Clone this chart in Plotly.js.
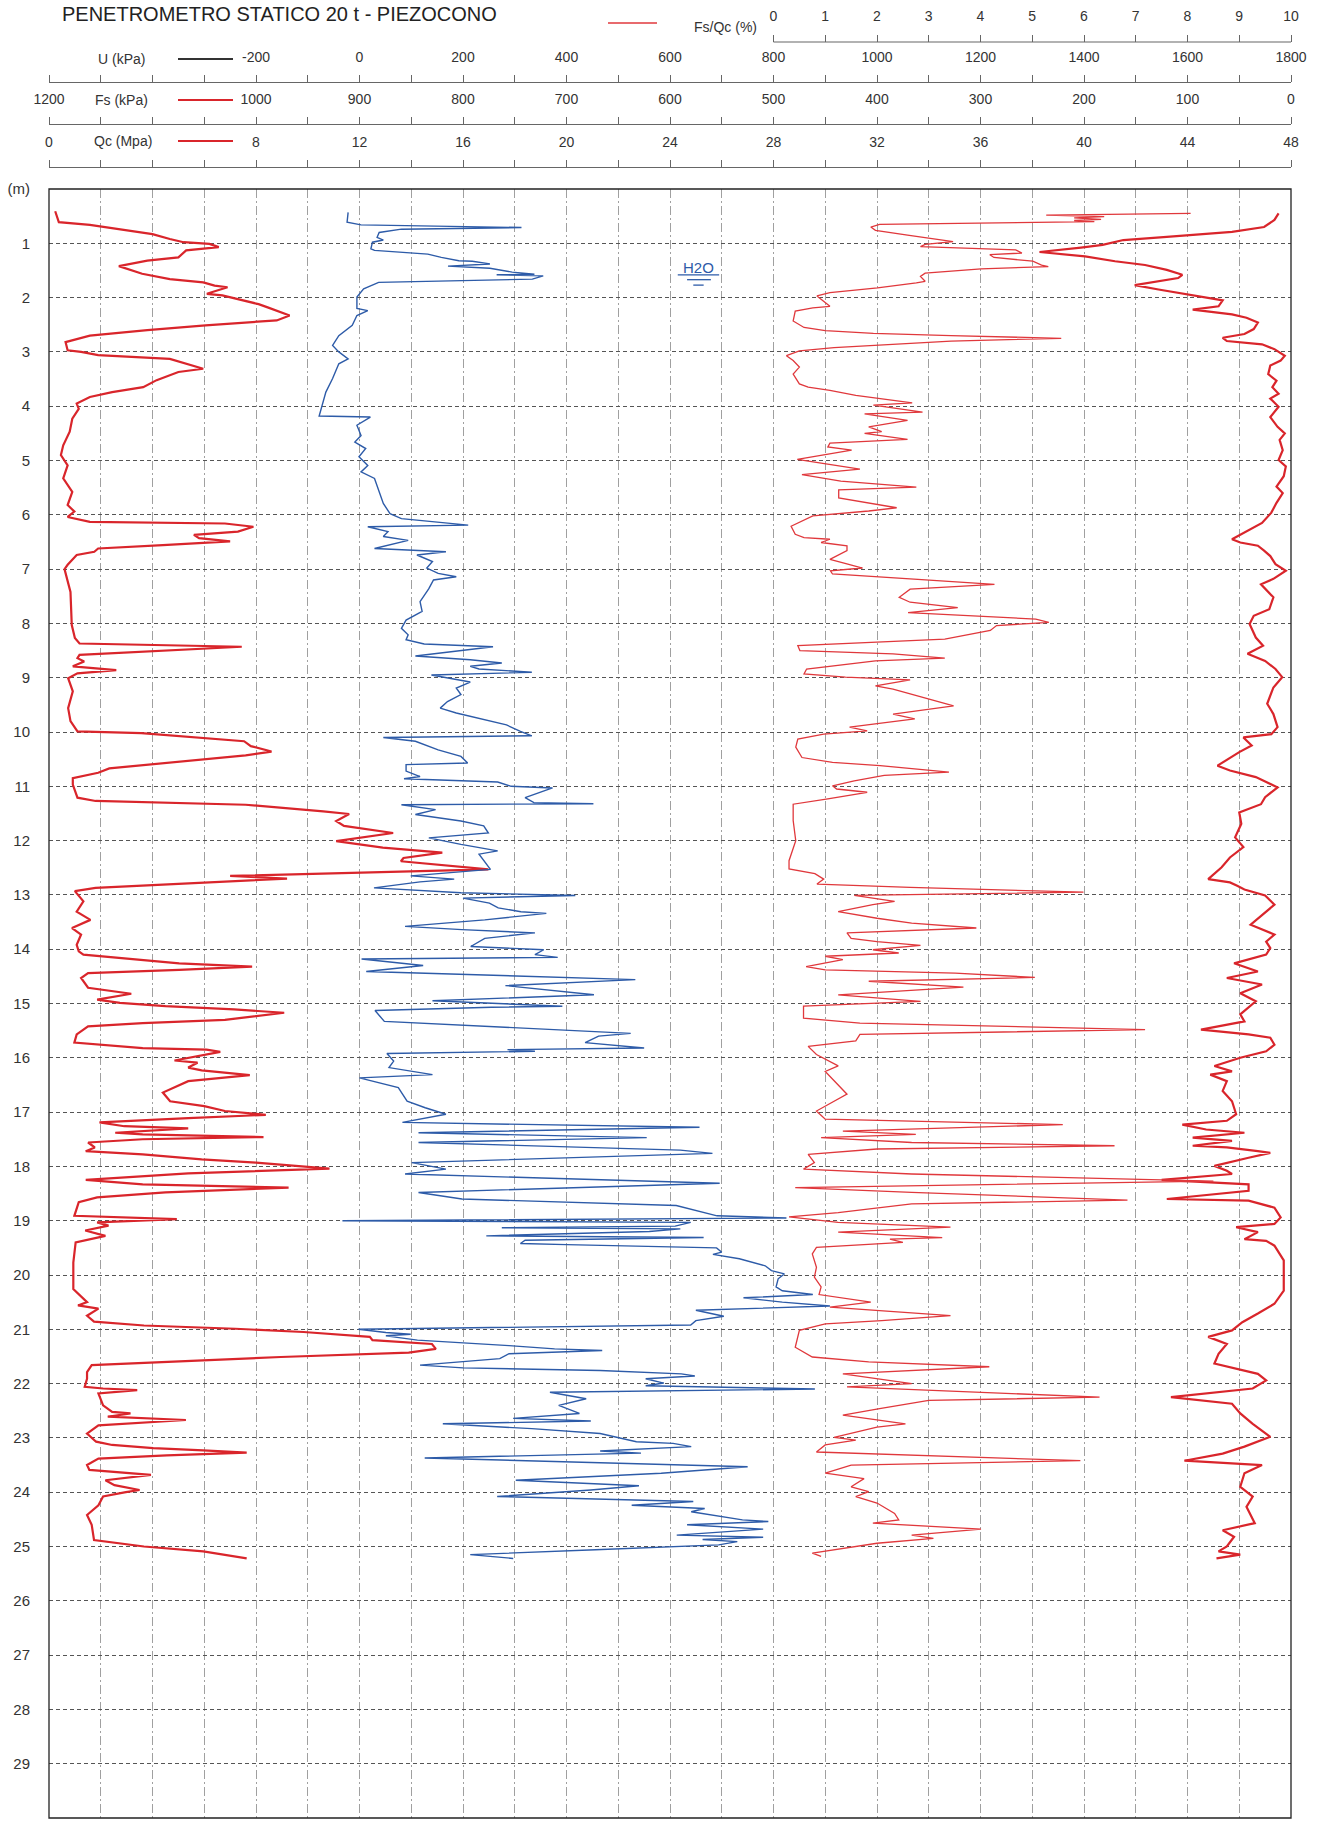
<!DOCTYPE html>
<html><head><meta charset="utf-8">
<script src="https://cdn.plot.ly/plotly-3.0.1.min.js"></script>
<style>html,body{margin:0;padding:0;background:#fff;}#chart{width:1329px;height:1823px;}</style>
</head><body><div id="chart"></div>
<script>
// ---------------- DATA (depth m, value) ----------------
const qcProfile = [[0.41,0.24],[0.61,0.38],[0.66,1.58],[0.83,4.0],[0.92,4.67],[0.98,5.2],[1.01,6.2],[1.07,6.56],[1.13,5.3],[1.26,5.0],[1.32,3.8],[1.42,2.7],[1.56,3.6],[1.66,4.67],[1.72,5.96],[1.78,6.4],[1.81,6.9],[1.93,6.1],[1.96,6.7],[2.12,8.1],[2.18,8.45],[2.24,8.8],[2.33,9.3],[2.42,8.8],[2.51,6.05],[2.60,3.8],[2.70,1.58],[2.82,0.64],[2.97,0.72],[3.00,1.24],[3.06,1.9],[3.13,4.67],[3.22,5.36],[3.31,5.96],[3.37,5.0],[3.52,4.16],[3.65,3.64],[3.74,2.44],[3.83,1.58],[3.95,1.07],[4.05,1.15],[4.23,0.9],[4.47,0.8],[4.72,0.55],[4.90,0.46],[5.09,0.72],[5.33,0.55],[5.58,0.9],[5.82,0.72],[5.94,0.98],[6.04,0.72],[6.13,1.58],[6.16,6.8],[6.22,7.9],[6.31,7.3],[6.37,5.6],[6.43,5.8],[6.49,7.0],[6.56,4.4],[6.62,1.9],[6.68,1.75],[6.74,1.07],[6.92,0.72],[7.00,0.6],[7.42,0.83],[8.03,0.88],[8.27,1.0],[8.37,1.18],[8.43,7.45],[8.52,3.9],[8.58,1.18],[8.64,1.1],[8.70,1.36],[8.79,0.92],[8.86,2.6],[8.92,1.1],[9.01,0.74],[9.25,0.92],[9.56,0.74],[9.80,0.83],[9.99,1.1],[10.02,3.57],[10.11,6.04],[10.17,7.54],[10.26,7.8],[10.36,8.6],[10.43,7.6],[10.51,5.86],[10.61,3.57],[10.67,2.33],[10.75,1.9],[10.85,0.92],[10.97,0.92],[11.21,1.1],[11.27,1.8],[11.34,7.6],[11.46,10.6],[11.51,11.6],[11.64,11.1],[11.73,11.4],[11.86,13.3],[11.98,11.4],[12.01,11.1],[12.13,12.9],[12.22,15.2],[12.32,13.7],[12.38,13.6],[12.53,16.98],[12.59,12.4],[12.65,7.0],[12.70,9.2],[12.77,6.2],[12.87,1.8],[12.93,1.0],[13.05,1.2],[13.12,1.33],[13.31,1.07],[13.46,1.6],[13.61,0.89],[13.73,1.24],[13.92,1.07],[14.04,1.15],[14.10,1.33],[14.16,2.74],[14.26,5.03],[14.32,7.85],[14.38,5.03],[14.44,1.51],[14.53,1.24],[14.71,1.51],[14.82,3.18],[14.93,1.86],[14.99,2.74],[15.05,4.5],[15.11,7.15],[15.17,9.09],[15.30,6.8],[15.36,3.62],[15.42,1.51],[15.57,1.07],[15.72,0.98],[15.82,3.62],[15.85,6.09],[15.89,6.62],[15.95,5.9],[16.05,4.85],[16.09,5.74],[16.18,5.38],[16.23,5.9],[16.32,7.76],[16.43,5.38],[16.64,4.4],[16.80,4.68],[16.89,6.0],[16.98,6.8],[17.05,8.38],[17.11,5.38],[17.19,1.95],[17.26,2.91],[17.30,5.38],[17.38,2.56],[17.41,3.62],[17.46,8.29],[17.50,3.62],[17.56,1.51],[17.65,1.77],[17.72,1.42],[17.78,3.62],[17.87,5.9],[17.93,8.0],[18.04,10.84],[18.13,5.38],[18.25,1.42],[18.33,3.62],[18.39,9.26],[18.48,4.5],[18.57,1.86],[18.66,1.15],[18.91,0.98],[18.97,4.94],[19.03,1.86],[19.09,2.3],[19.18,1.4],[19.28,2.18],[19.40,1.03],[19.77,0.94],[20.26,0.94],[20.38,1.21],[20.50,1.47],[20.56,1.12],[20.62,1.91],[20.75,1.47],[20.86,1.74],[20.93,3.67],[20.99,7.2],[21.05,9.84],[21.14,12.4],[21.20,12.5],[21.27,14.8],[21.36,14.95],[21.43,13.9],[21.51,8.96],[21.60,4.55],[21.66,1.65],[21.79,1.47],[21.91,1.47],[22.06,1.38],[22.09,2.09],[22.12,3.41],[22.18,1.91],[22.40,2.09],[22.52,2.44],[22.55,3.15],[22.61,2.27],[22.67,5.29],[22.77,1.91],[22.92,1.47],[23.07,1.82],[23.13,2.44],[23.19,4.03],[23.23,5.96],[23.27,7.64],[23.32,4.55],[23.38,1.91],[23.50,1.47],[23.59,1.56],[23.68,3.94],[23.78,2.18],[23.87,2.53],[23.96,3.5],[24.00,2.97],[24.08,2.09],[24.24,1.91],[24.42,1.47],[24.60,1.65],[24.88,1.74],[25.00,3.67],[25.09,5.96],[25.22,7.64]];

const uProfile = [[0.43,-22],[0.61,-24],[0.66,3],[0.71,313],[0.74,81],[0.80,38],[0.89,34],[0.94,46],[0.98,25],[1.10,22],[1.13,29],[1.20,132],[1.26,158],[1.32,192],[1.33,218],[1.38,252],[1.42,171],[1.46,252],[1.53,295],[1.57,338],[1.58,265],[1.60,355],[1.66,334],[1.72,37],[1.84,8],[1.99,-5],[2.20,-5],[2.24,16],[2.33,-5],[2.51,-14],[2.70,-40],[2.88,-52],[3.00,-40],[3.13,-22],[3.22,-40],[3.49,-52],[3.74,-65],[4.10,-76],[4.18,-78],[4.20,21],[4.35,-5],[4.54,3],[4.66,-9],[4.78,12],[4.93,-1],[5.09,16],[5.21,3],[5.33,29],[5.58,38],[5.79,46],[5.98,59],[6.07,81],[6.19,210],[6.22,16],[6.31,55],[6.40,46],[6.47,94],[6.62,29],[6.68,167],[6.74,111],[6.86,141],[6.98,130],[7.08,152],[7.14,187],[7.20,143],[7.36,134],[7.60,117],[7.78,121],[7.94,90],[8.09,81],[8.21,94],[8.30,90],[8.38,125],[8.43,258],[8.60,108],[8.67,214],[8.73,275],[8.79,214],[8.84,231],[8.90,333],[8.95,139],[9.08,214],[9.19,187],[9.31,196],[9.44,170],[9.56,156],[9.65,187],[9.77,240],[9.87,284],[9.99,311],[10.07,333],[10.10,46],[10.17,108],[10.33,152],[10.45,196],[10.57,209],[10.60,90],[10.72,90],[10.82,117],[10.86,86],[10.92,267],[11.00,293],[11.03,373],[11.21,320],[11.30,337],[11.32,452],[11.34,81],[11.43,147],[11.52,108],[11.64,196],[11.73,240],[11.86,249],[11.95,134],[12.07,196],[12.19,267],[12.25,231],[12.47,249],[12.53,253],[12.65,99],[12.71,183],[12.76,117],[12.87,28],[12.96,196],[13.01,417],[13.06,200],[13.15,251],[13.24,268],[13.31,312],[13.34,361],[13.46,242],[13.58,88],[13.64,198],[13.70,339],[13.80,242],[13.95,215],[14.01,356],[14.10,339],[14.15,383],[14.18,4],[14.30,123],[14.41,13],[14.56,533],[14.67,282],[14.84,453],[14.95,141],[15.05,392],[15.07,255],[15.13,30],[15.33,48],[15.55,524],[15.60,462],[15.72,436],[15.82,550],[15.85,286],[15.88,339],[15.92,53],[16.06,66],[16.18,57],[16.31,141],[16.37,0],[16.55,75],[16.80,92],[16.92,127],[17.04,167],[17.19,83],[17.28,657],[17.38,114],[17.47,555],[17.56,114],[17.70,620],[17.76,682],[17.93,101],[18.05,167],[18.14,88],[18.31,696],[18.48,114],[18.60,198],[18.72,612],[18.91,691],[18.95,825],[19.00,-33],[19.03,640],[19.10,610],[19.13,275],[19.15,620],[19.20,560],[19.28,245],[19.31,665],[19.36,320],[19.42,311],[19.44,400],[19.50,690],[19.58,700],[19.62,683],[19.70,734],[19.83,784],[19.92,796],[19.98,821],[20.07,809],[20.22,805],[20.29,817],[20.36,876],[20.42,742],[20.50,817],[20.57,909],[20.65,650],[20.76,704],[20.84,650],[20.92,640],[21.00,-2],[21.06,51],[21.09,99],[21.12,51],[21.20,112],[21.30,289],[21.36,377],[21.39,469],[21.45,289],[21.54,271],[21.60,200],[21.66,117],[21.71,200],[21.76,465],[21.82,622],[21.86,648],[21.91,553],[21.99,588],[22.04,553],[22.10,880],[22.16,368],[22.28,438],[22.40,385],[22.55,425],[22.64,297],[22.69,447],[22.74,161],[22.83,333],[22.92,465],[23.07,535],[23.10,606],[23.16,641],[23.24,465],[23.28,544],[23.37,126],[23.53,750],[23.65,583],[23.78,302],[23.88,540],[23.96,447],[24.08,266],[24.17,645],[24.24,526],[24.30,667],[24.36,641],[24.51,740],[24.54,790],[24.60,633],[24.68,780],[24.79,613],[24.83,780],[24.87,663],[24.91,730],[24.97,694],[25.06,456],[25.15,214],[25.22,297]];

const fsqcProfile = [[0.45,8.06],[0.48,5.27],[0.51,6.39],[0.53,5.81],[0.56,6.33],[0.58,5.81],[0.60,6.2],[0.65,2.05],[0.70,1.88],[0.76,1.97],[0.85,2.59],[0.91,3.01],[0.97,3.47],[1.02,2.93],[1.06,2.84],[1.12,4.68],[1.18,4.8],[1.21,4.18],[1.26,4.26],[1.33,5.01],[1.40,5.18],[1.43,5.31],[1.47,4.01],[1.55,2.93],[1.61,2.84],[1.70,2.93],[1.73,2.76],[1.82,2.01],[1.91,1.09],[1.97,0.84],[2.16,1.09],[2.19,0.76],[2.25,0.42],[2.43,0.38],[2.55,0.59],[2.61,1.0],[2.66,1.93],[2.70,3.43],[2.75,5.56],[2.80,3.43],[2.89,1.67],[2.92,1.17],[2.98,0.5],[3.07,0.25],[3.16,0.38],[3.28,0.5],[3.41,0.38],[3.59,0.5],[3.65,0.67],[3.71,1.09],[3.80,1.59],[3.89,2.26],[3.94,2.68],[3.98,1.93],[4.11,2.88],[4.14,1.76],[4.26,2.59],[4.38,1.84],[4.47,2.09],[4.50,1.76],[4.61,2.59],[4.68,1.09],[4.75,1.05],[4.81,1.51],[4.98,0.46],[5.05,0.92],[5.16,1.67],[5.26,0.55],[5.38,1.3],[5.49,2.76],[5.54,1.26],[5.69,1.26],[5.78,1.84],[5.87,2.38],[5.93,1.84],[5.99,1.09],[6.02,0.76],[6.21,0.34],[6.36,0.42],[6.42,0.59],[6.45,1.09],[6.51,0.92],[6.57,1.42],[6.66,1.42],[6.82,1.09],[6.90,1.4],[6.98,1.72],[7.03,1.1],[7.09,1.14],[7.18,2.64],[7.28,4.27],[7.37,2.64],[7.52,2.43],[7.61,2.64],[7.71,3.56],[7.80,2.6],[7.92,5.07],[7.98,5.32],[8.04,4.31],[8.13,4.19],[8.29,3.31],[8.41,0.47],[8.50,0.51],[8.56,2.31],[8.64,3.31],[8.69,1.97],[8.78,1.22],[8.84,0.64],[8.93,0.59],[8.99,1.39],[9.04,2.64],[9.15,1.97],[9.21,2.31],[9.39,2.98],[9.52,3.48],[9.67,2.31],[9.76,2.73],[9.91,1.47],[9.98,1.81],[10.04,0.97],[10.13,0.47],[10.28,0.43],[10.47,0.55],[10.56,1.14],[10.62,2.06],[10.74,3.39],[10.80,2.14],[10.90,1.56],[10.99,1.14],[11.05,1.22],[11.11,1.81],[11.23,1.05],[11.33,0.38],[11.63,0.38],[12.00,0.43],[12.37,0.3],[12.52,0.3],[12.61,0.8],[12.71,0.97],[12.80,0.84],[12.86,2.64],[12.95,5.99],[13.01,1.56],[13.12,2.34],[13.18,1.92],[13.31,1.25],[13.43,2.0],[13.52,2.67],[13.61,3.92],[13.70,1.42],[13.80,1.5],[13.86,2.0],[13.93,2.84],[14.01,1.92],[14.07,2.42],[14.13,1.0],[14.19,1.34],[14.32,0.63],[14.38,1.0],[14.44,3.51],[14.52,5.05],[14.59,1.84],[14.70,3.67],[14.84,1.25],[14.96,2.84],[15.05,0.58],[15.27,0.58],[15.36,1.67],[15.48,7.18],[15.57,1.67],[15.69,1.59],[15.79,0.67],[15.94,0.83],[16.15,1.25],[16.25,1.0],[16.67,1.42],[16.98,0.83],[17.13,1.0],[17.23,5.59],[17.35,1.34],[17.41,2.75],[17.47,0.92],[17.56,2.67],[17.62,6.59],[17.68,2.0],[17.78,0.67],[17.93,0.79],[18.05,0.58],[18.14,2.67],[18.27,8.5],[18.39,0.42],[18.48,2.67],[18.62,6.84],[18.69,2.67],[18.85,1.25],[18.93,0.3],[19.03,1.25],[19.12,3.42],[19.21,1.25],[19.31,3.26],[19.34,2.25],[19.40,2.5],[19.49,0.83],[19.61,0.75],[19.86,0.83],[20.04,0.79],[20.22,0.92],[20.36,0.88],[20.50,1.88],[20.59,1.09],[20.75,3.42],[20.84,2.09],[20.90,1.0],[21.02,0.5],[21.33,0.42],[21.51,0.75],[21.60,1.84],[21.69,4.17],[21.82,1.34],[22.00,2.67],[22.06,1.42],[22.25,6.3],[22.31,3.0],[22.46,2.05],[22.58,1.34],[22.74,2.55],[22.80,2.0],[22.99,1.17],[23.04,1.59],[23.13,1.0],[23.26,0.83],[23.42,5.93],[23.50,1.5],[23.65,1.0],[23.75,1.75],[23.90,1.5],[23.99,1.84],[24.08,1.59],[24.20,2.0],[24.39,2.34],[24.51,2.42],[24.57,1.92],[24.68,4.01],[24.79,2.67],[24.85,3.09],[24.94,2.0],[25.12,0.75],[25.18,0.92]];

const fsProfile = [[0.45,12],[0.57,16],[0.70,26],[0.79,57],[0.88,120],[0.94,162],[1.03,182],[1.08,203],[1.16,243],[1.24,199],[1.33,170],[1.40,141],[1.49,120],[1.58,105],[1.64,109],[1.77,151],[1.85,128],[1.94,99],[2.05,66],[2.16,70],[2.22,95],[2.31,57],[2.37,43],[2.46,32],[2.58,36],[2.67,45],[2.74,66],[2.80,62],[2.86,28],[2.95,16],[3.07,6],[3.16,10],[3.25,20],[3.41,22],[3.53,14],[3.65,18],[3.77,12],[3.86,20],[4.01,12],[4.20,20],[4.38,13],[4.50,6],[4.62,11],[4.81,8],[4.99,12],[5.11,5],[5.29,7],[5.48,14],[5.60,8],[5.78,14],[5.96,19],[6.15,28],[6.27,40],[6.45,57],[6.51,49],[6.57,32],[6.66,26],[6.76,20],[6.91,15],[7.03,5],[7.18,17],[7.28,29],[7.52,17],[7.74,21],[7.86,36],[8.01,40],[8.26,34],[8.41,27],[8.56,42],[8.69,25],[8.84,15],[8.99,8.5],[9.18,17],[9.48,23],[9.67,17],[9.91,13],[10.04,19],[10.10,46],[10.25,38],[10.37,50],[10.62,71],[10.71,59],[10.83,34],[11.02,13],[11.20,25],[11.33,29],[11.48,50],[11.69,48],[11.94,54],[12.12,46],[12.31,59],[12.49,67],[12.71,80],[12.77,59],[12.83,52],[12.90,45],[13.01,25],[13.18,16],[13.55,39],[13.73,16],[13.86,24],[13.98,20],[14.10,24],[14.26,55],[14.41,32],[14.53,62],[14.65,28],[14.81,49],[14.96,34],[15.20,49],[15.33,45],[15.48,87],[15.57,41],[15.63,20],[15.76,16],[15.88,24],[16.00,49],[16.15,74],[16.25,57],[16.31,78],[16.43,62],[16.61,66],[16.80,57],[17.04,53],[17.16,62],[17.23,105],[17.32,82],[17.38,45],[17.47,95],[17.53,57],[17.62,95],[17.65,62],[17.72,32],[17.75,20],[17.84,41],[17.99,74],[18.08,62],[18.14,57],[18.25,125],[18.33,41],[18.45,41],[18.60,120],[18.63,41],[18.76,16],[18.94,10],[19.06,16],[19.12,53],[19.21,32],[19.34,45],[19.37,24],[19.46,16],[19.73,7],[20.29,7],[20.53,16],[20.71,32],[20.87,47],[21.02,57],[21.14,80],[21.27,62],[21.45,70],[21.63,74],[21.82,32],[21.94,24],[22.09,37],[22.25,116],[22.37,57],[22.55,49],[22.74,37],[22.98,20],[23.16,45],[23.29,66],[23.42,103],[23.50,28],[23.65,45],[23.90,49],[24.08,37],[24.27,43],[24.57,35],[24.70,66],[24.82,55],[25.00,62],[25.09,70],[25.15,49],[25.22,72]];

// tick values / labels
const depthTicks = [0,1,2,3,4,5,6,7,8,9,10,11,12,13,14,15,16,17,18,19,20,21,22,23,24,25,26,27,28,29,30];
const qcTicks = [0,2,4,6,8,10,12,14,16,18,20,22,24,26,28,30,32,34,36,38,40,42,44,46,48];
const qcLabels = ['0','','','','8','','12','','16','','20','','24','','28','','32','','36','','40','','44','','48'];
const uTicks = [-600,-500,-400,-300,-200,-100,0,100,200,300,400,500,600,700,800,900,1000,1100,1200,1300,1400,1500,1600,1700,1800];
const uLabels = ['','','','','-200','','0','','200','','400','','600','','800','','1000','','1200','','1400','','1600','','1800'];
const fsTicks = [1200,1150,1100,1050,1000,950,900,850,800,750,700,650,600,550,500,450,400,350,300,250,200,150,100,50,0];
const fsLabels = ['1200','','','','1000','','900','','800','','700','','600','','500','','400','','300','','200','','100','','0'];
const fsqcTicks = [0,1,2,3,4,5,6,7,8,9,10];
const fsqcLabels = ['0','1','2','3','4','5','6','7','8','9','10'];

// ---------------- LAYOUT HELPERS ----------------
const L = 49, W = 1242, H = 1818;
const px = v => (v - L) / W;
const py = v => 1 - v / H;
const FONT = 'Arial, "Liberation Sans", sans-serif';
const RED = '#d9252b', RED2 = '#e0383c', BLUE = '#2d5ba8';

const col = (arr, i) => arr.map(r => r[i]);

const traces = [
  {x: col(qcProfile,1), y: col(qcProfile,0), xaxis:'x', yaxis:'y', mode:'lines', line:{color:RED, width:2.2}, hoverinfo:'skip'},
  {x: col(uProfile,1), y: col(uProfile,0), xaxis:'x2', yaxis:'y', mode:'lines', line:{color:BLUE, width:1.4}, hoverinfo:'skip'},
  {x: col(fsProfile,1), y: col(fsProfile,0), xaxis:'x3', yaxis:'y', mode:'lines', line:{color:RED, width:2.2}, hoverinfo:'skip'},
  {x: col(fsqcProfile,1), y: col(fsqcProfile,0), xaxis:'x4', yaxis:'y', mode:'lines', line:{color:RED2, width:1.3}, hoverinfo:'skip'}
];

const tickFont = {family: FONT, size: 14, color: '#333'};
function headerAxis(extra) {
  return Object.assign({
    anchor: 'free', side: 'top', showline: true, linecolor: '#666', linewidth: 1.2,
    ticks: 'outside', ticklen: 7, tickwidth: 1, tickcolor: '#666',
    tickmode: 'array', tickfont: tickFont, showgrid: false, zeroline: false,
    ticklabelstandoff: 7, fixedrange: true
  }, extra);
}

const layout = {
  width: 1329, height: 1823,
  margin: {l: L, r: 1329 - L - W, t: 0, b: 5},
  paper_bgcolor: '#fff', plot_bgcolor: '#fff',
  showlegend: false,
  xaxis: headerAxis({range: [0, 48], position: py(167), tickvals: qcTicks, ticktext: qcLabels,
    showgrid: true, gridcolor: '#a0a0a0', gridwidth: 1, griddash: '9px,3px,2px,3px'}),
  xaxis2: headerAxis({overlaying: 'x', range: [-600, 1800], position: py(82), tickvals: uTicks, ticktext: uLabels}),
  xaxis3: headerAxis({overlaying: 'x', range: [1200, 0], position: py(124), tickvals: fsTicks, ticktext: fsLabels}),
  xaxis4: headerAxis({overlaying: 'x', range: [-14, 10], position: py(42), tickvals: fsqcTicks, ticktext: fsqcLabels, showline: false, ticklabelstandoff: 8}),
  yaxis: {domain: [0, py(189)], range: [30, 0], tickmode: 'array', tickvals: depthTicks,
    ticktext: depthTicks.map(d => d === 0 ? '(m)' : String(d)),
    tickfont: {family: FONT, size: 15, color: '#333'}, ticks: '', ticklabelstandoff: 18,
    showline: false, zeroline: false, showgrid: true, gridcolor: '#555', gridwidth: 1, griddash: '4px,3px', fixedrange: true},
  shapes: [
    {type: 'rect', xref: 'paper', yref: 'paper', x0: 0, x1: 1, y0: 0, y1: py(189), line: {color: '#222', width: 1.3}},
    {type: 'line', xref: 'paper', yref: 'paper', x0: 28/48, x1: 1, y0: py(42), y1: py(42), line: {color: '#666', width: 1.2}},
    {type: 'line', xref: 'paper', yref: 'paper', x0: px(178), x1: px(233), y0: py(59), y1: py(59), line: {color: '#333', width: 2.2}},
    {type: 'line', xref: 'paper', yref: 'paper', x0: px(178), x1: px(233), y0: py(100), y1: py(100), line: {color: RED, width: 2.2}},
    {type: 'line', xref: 'paper', yref: 'paper', x0: px(178), x1: px(233), y0: py(141), y1: py(141), line: {color: RED, width: 2.2}},
    {type: 'line', xref: 'paper', yref: 'paper', x0: px(608), x1: px(657), y0: py(23), y1: py(23), line: {color: RED2, width: 1.3}},
    {type: 'line', xref: 'x', yref: 'y', x0: 24.3, x1: 25.9, y0: 1.58, y1: 1.58, line: {color: BLUE, width: 1.3}},
    {type: 'line', xref: 'x', yref: 'y', x0: 24.66, x1: 25.58, y0: 1.67, y1: 1.67, line: {color: BLUE, width: 1.3}},
    {type: 'line', xref: 'x', yref: 'y', x0: 24.9, x1: 25.3, y0: 1.77, y1: 1.77, line: {color: BLUE, width: 1.3}}
  ],
  annotations: [
    {text: 'PENETROMETRO STATICO 20 t - PIEZOCONO', xref: 'paper', yref: 'paper', x: px(60), y: py(14), xanchor: 'left', yanchor: 'middle', showarrow: false, font: {family: FONT, size: 20, color: '#222'}},
    {text: 'U (kPa)', xref: 'paper', yref: 'paper', x: px(121), y: py(59), xanchor: 'center', yanchor: 'middle', showarrow: false, font: tickFont},
    {text: 'Fs (kPa)', xref: 'paper', yref: 'paper', x: px(121), y: py(100), xanchor: 'center', yanchor: 'middle', showarrow: false, font: tickFont},
    {text: 'Qc (Mpa)', xref: 'paper', yref: 'paper', x: px(123), y: py(141), xanchor: 'center', yanchor: 'middle', showarrow: false, font: tickFont},
    {text: 'Fs/Qc (%)', xref: 'paper', yref: 'paper', x: px(725), y: py(27), xanchor: 'center', yanchor: 'middle', showarrow: false, font: tickFont},
    {text: 'H2O', xref: 'x', yref: 'y', x: 25.1, y: 1.44, xanchor: 'center', yanchor: 'middle', showarrow: false, font: {family: FONT, size: 15, color: BLUE}}
  ]
};

Plotly.newPlot('chart', traces, layout, {staticPlot: true, displayModeBar: false});
</script></body></html>
